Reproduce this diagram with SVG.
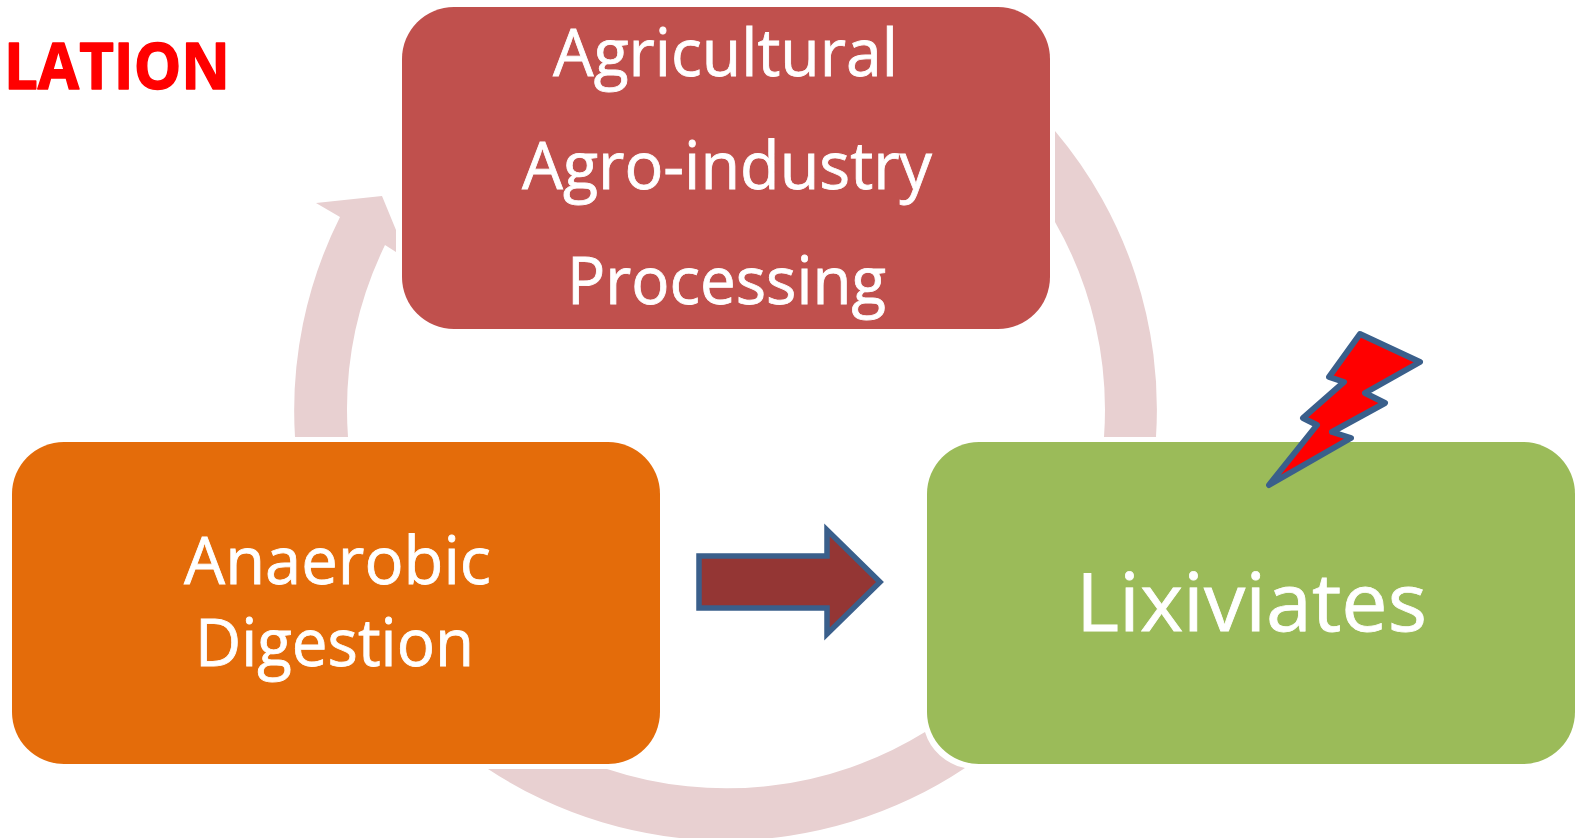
<svg xmlns="http://www.w3.org/2000/svg" width="1581" height="838" viewBox="0 0 1581 838">
<style>
.conn{fill:#E8D0D1}
.lbl{font-family:"Open Sans","Noto Sans",sans-serif;fill:#fff;stroke:#fff;stroke-width:.8;font-size:65px}
.sym{stroke:#3A5F8B}
</style>
<rect width="1581" height="838" fill="#fff"/>
<g id="connectors">
<path class="conn" d="M1055 131A431 431 0 0 1 1156 437H1104A378 378 0 0 0 1055 222Z"/>
<path class="conn" d="M965 768A431 431 0 0 1 488 769H607A378 378 0 0 0 925 732A52 52 0 0 0 965 768Z"/>
<path class="conn" d="M295 437A431 431 0 0 1 340 217L316 203L382 196L396 230V252L385 245A378 378 0 0 0 348 437Z"/>
</g>
<g id="node-agricultural">
<rect x="402" y="7" width="648" height="322" rx="52" fill="#C0504D"/>
<text class="lbl" x="553" y="76" textLength="345" lengthAdjust="spacingAndGlyphs">Agricultural</text>
<text class="lbl" x="522" y="189" textLength="410" lengthAdjust="spacingAndGlyphs">Agro-industry</text>
<text class="lbl" x="567" y="304" textLength="319" lengthAdjust="spacingAndGlyphs">Processing</text>
</g>
<g id="node-anaerobic">
<rect x="12" y="442" width="648" height="322" rx="52" fill="#E46C0A"/>
<text class="lbl" x="184" y="584" textLength="307" lengthAdjust="spacingAndGlyphs">Anaerobic</text>
<text class="lbl" x="195" y="666" textLength="279" lengthAdjust="spacingAndGlyphs">Digestion</text>
</g>
<g id="node-lixiviates">
<rect x="927" y="442" width="648" height="322" rx="52" fill="#9BBB59"/>
<text class="lbl" x="1076" y="631" textLength="351" lengthAdjust="spacingAndGlyphs" style="font-size:80px">Lixiviates</text>
</g>
<g id="node-arrow">
<path class="sym" fill="#943634" stroke-width="5.5" d="M699 556H827V530L880 582L827 634V608H699Z"/>
</g>
<g id="node-lightning">
<path class="sym" fill="#f00" stroke-width="6" stroke-linejoin="round" d="M1360 334L1420 362L1365 393L1385 403L1332 432L1351 438L1269 485L1317 425L1303 418L1344 382L1329 377Z"/>
</g>
<g id="node-lation">
<text x="4" y="89" textLength="226" lengthAdjust="spacingAndGlyphs" style="font-family:'Open Sans','Noto Sans',sans-serif;font-weight:700;font-size:64px;fill:#f00;stroke:#f00;stroke-width:1.5;stroke-linejoin:round">LATION</text>
</g>
</svg>
